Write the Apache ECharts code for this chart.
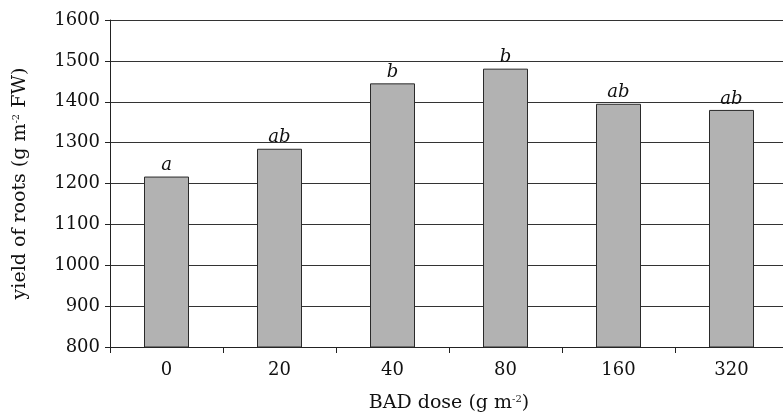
<!DOCTYPE html>
<html>
<head>
<meta charset="utf-8">
<title>Yield of roots vs BAD dose</title>
<script src="https://cdn.jsdelivr.net/npm/echarts@6/dist/echarts.min.js"></script>
<style>
    html, body { margin: 0; padding: 0; background: #fff; }
    #yield_roots { width: 783px; height: 414px; }
</style>
</head>
<body>
<div id="yield_roots"></div>
<script>
// Chart data
// ------------------------------

var doses = ['0', '20', '40', '80', '160', '320'];
var yieldValues = [1217, 1285, 1445, 1481, 1395, 1380];
var groupLetters = ['a', 'ab', 'b', 'b', 'ab', 'ab'];
var yTicks = { min: 800, max: 1600, interval: 100 };


// Setup chart
// ------------------------------

var EchartsYieldRoots = function() {

    var _yieldRootsChart = function() {
        if (typeof echarts == 'undefined') {
            console.warn('Warning - echarts.min.js is not loaded.');
            return;
        }

        var yield_roots_element = document.getElementById('yield_roots');
        if (!yield_roots_element) return;

        var yield_roots = echarts.init(yield_roots_element);
        var serif = '"DejaVu Serif", "Liberation Serif", serif';

        yield_roots.setOption({
            animation: false,
            textStyle: {
                fontFamily: serif,
                fontSize: 18,
                color: '#111'
            },

            grid: {
                left: 110,
                top: 20,
                width: 678,
                height: 327,
                outerBoundsMode: 'none'
            },

            xAxis: {
                type: 'category',
                data: doses,
                name: 'BAD dose (g m{sup|-2})',
                nameLocation: 'middle',
                nameGap: 47,
                nameTextStyle: {
                    fontFamily: serif,
                    fontSize: 19,
                    color: '#111',
                    rich: {
                        sup: { fontSize: 10, verticalAlign: 'top', fontFamily: serif, color: '#111' }
                    }
                },
                axisLine: { lineStyle: { color: '#222', width: 1 } },
                axisTick: { show: true, length: 6, lineStyle: { color: '#222' } },
                axisLabel: { margin: 14, fontFamily: serif, fontSize: 18, color: '#111' }
            },

            yAxis: {
                type: 'value',
                min: yTicks.min,
                max: yTicks.max,
                interval: yTicks.interval,
                name: 'yield of roots (g m{sup|-2} FW)',
                nameLocation: 'middle',
                nameGap: 80,
                nameTextStyle: {
                    fontFamily: serif,
                    fontSize: 19,
                    color: '#111',
                    rich: {
                        sup: { fontSize: 10, verticalAlign: 'top', fontFamily: serif, color: '#111' }
                    }
                },
                axisLine: { show: true, lineStyle: { color: '#222', width: 1 } },
                axisTick: { show: true, length: 5, lineStyle: { color: '#222' } },
                axisLabel: {
                    margin: 10,
                    fontFamily: serif,
                    fontSize: 18,
                    color: '#111',
                    formatter: function(v) { return String(v); }
                },
                splitLine: { show: true, lineStyle: { color: '#333', width: 1 } }
            },

            series: [
                {
                    name: 'yield of roots',
                    type: 'bar',
                    barWidth: 45,
                    data: yieldValues,
                    itemStyle: {
                        color: '#b2b2b2',
                        borderColor: '#2a2a2a',
                        borderWidth: 1
                    },
                    label: {
                        show: true,
                        position: 'top',
                        distance: 2,
                        fontFamily: serif,
                        fontStyle: 'italic',
                        fontSize: 18,
                        color: '#111',
                        formatter: function(p) {
                            return groupLetters[p.dataIndex];
                        }
                    }
                }
            ]
        });
    };

    return {
        init: function() {
            _yieldRootsChart();
        }
    }
}();

document.addEventListener('DOMContentLoaded', function() {
    EchartsYieldRoots.init();
});
</script>
</body>
</html>
